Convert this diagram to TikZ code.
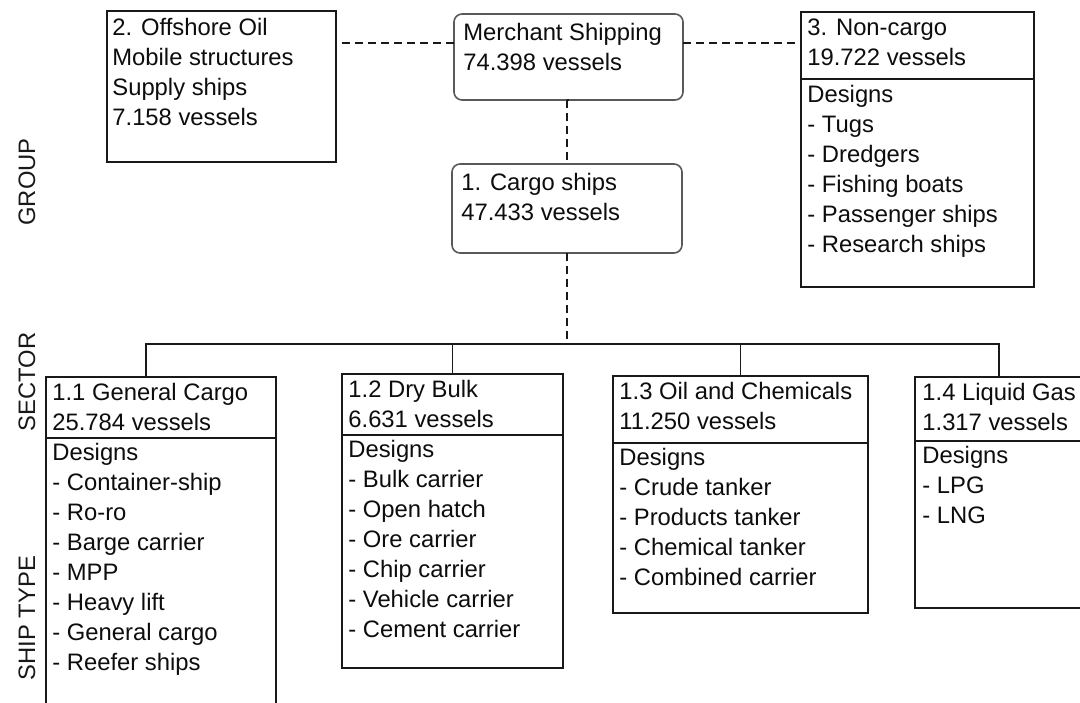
\documentclass[tikz,border=0pt]{standalone}
\usepackage{fontspec}
\setmainfont{Liberation Sans}
\usetikzlibrary{calc}
\begin{document}
\begin{tikzpicture}[x=0.5pt,y=-0.5pt,
  boxframe/.style={draw=black!90, line width=1pt, inner sep=0pt, outer sep=0pt, anchor=north west},
  roundframe/.style={draw=black!65, line width=0.8pt, rounded corners=4pt, inner sep=0pt, outer sep=0pt, anchor=north west},
  boxsize/.style args={#1/#2}{minimum width=#1*0.5pt, minimum height=#2*0.5pt},
  txt/.style={inner sep=0pt, anchor=north west, align=left, font=\fontsize{11.9}{15}\selectfont, text=black!95},
  sidelabel/.style={rotate=90, anchor=base, inner sep=0pt, font=\fontsize{11.9}{15}\selectfont, text=black!90},
  link/.style={line width=0.8pt, draw=black!90},
  dashlink/.style={link, dash pattern=on 4pt off 2.5pt},
]
\useasboundingbox (0,0) rectangle (1080,702);
\clip (0,0) rectangle (1080,702);
\fill[white] (0,0) rectangle (1080,702);

% level labels
\node[sidelabel] (lgroup) at (35,182) {GROUP};
\node[sidelabel] (lsector) at (35,382) {SECTOR};
\node[sidelabel] (ltype) at (35,618) {SHIP TYPE};

% group level
\node[roundframe, boxsize=229/86] (merch) at (454,14) {};
\node[txt] (merchT) at ($(merch.north west)+(9,5)$) {\strut Merchant Shipping\\74.398 vessels};

\node[roundframe, boxsize=230/89] (cargo) at (452,164) {};
\node[txt] (cargoT) at ($(cargo.north west)+(9,5)$) {\strut 1. Cargo ships\\47.433 vessels};

\node[boxframe, boxsize=229/151] (off) at (107,11) {};
\node[txt] (offT) at ($(off.north west)+(5,3)$) {\strut 2. Offshore Oil\\Mobile structures\\Supply ships\\7.158 vessels};

\node[boxframe, boxsize=233/67] (nch) at (801,12) {};
\node[boxframe, boxsize=233/208] (ncb) at (nch.south west) {};
\node[txt] (nchT) at ($(nch.north west)+(6,2)$) {\strut 3. Non-cargo\\19.722 vessels};
\node[txt] (ncbT) at ($(ncb.north west)+(6,2)$) {\strut Designs\\- Tugs\\- Dredgers\\- Fishing boats\\- Passenger ships\\- Research ships};

% sector / ship type level
\node[boxframe, boxsize=230/61] (gch) at (46,377) {};
\node[boxframe, boxsize=230/300] (gcb) at (gch.south west) {};
\node[txt] (gchT) at ($(gch.north west)+(6,2)$) {\strut 1.1 General Cargo\\25.784 vessels};
\node[txt] (gcbT) at ($(gcb.north west)+(6,1)$) {\strut Designs\\- Container-ship\\- Ro-ro\\- Barge carrier\\- MPP\\- Heavy lift\\- General cargo\\- Reefer ships};

\node[boxframe, boxsize=221/61] (dbh) at (342,374) {};
\node[boxframe, boxsize=221/233] (dbb) at (dbh.south west) {};
\node[txt] (dbhT) at ($(dbh.north west)+(6,2)$) {\strut 1.2 Dry Bulk\\6.631 vessels};
\node[txt] (dbbT) at ($(dbb.north west)+(6,1)$) {\strut Designs\\- Bulk carrier\\- Open hatch\\- Ore carrier\\- Chip carrier\\- Vehicle carrier\\- Cement carrier};

\node[boxframe, boxsize=255/67] (och) at (613,376) {};
\node[boxframe, boxsize=255/170] (ocb) at (och.south west) {};
\node[txt] (ochT) at ($(och.north west)+(6,2)$) {\strut 1.3 Oil and Chemicals\\11.250 vessels};
\node[txt] (ocbT) at ($(ocb.north west)+(6,1)$) {\strut Designs\\- Crude tanker\\- Products tanker\\- Chemical tanker\\- Combined carrier};

\node[boxframe, boxsize=185/64] (lgh) at (915,377) {};
\node[boxframe, boxsize=185/167] (lgb) at (lgh.south west) {};
\node[txt] (lghT) at ($(lgh.north west)+(7,2)$) {\strut 1.4 Liquid Gas\\1.317 vessels};
\node[txt] (lgbT) at ($(lgb.north west)+(7,1)$) {\strut Designs\\- LPG\\- LNG};

% connectors of the group level
\coordinate (mleft) at ($(merch.north west)!0.337!(merch.south west)$);
\coordinate (mright) at ($(merch.north east)!0.337!(merch.south east)$);
\draw[dashlink] (mleft) -- (mleft -| off.east);
\draw[dashlink] (mright) -- (mright -| nch.west);
\draw[dashlink] (merch.south) -- (cargo.south |- merch.south);
\draw[dashlink] (cargo.south |- merch.south) -- (cargo.north);

% bus to the sectors
\coordinate (bus) at ($(cargo.south)+(0,91)$);
\coordinate (gcd) at ($(gch.north west)+(100,0)$);
\coordinate (lgd) at ($(lgh.north west)+(84,0)$);
\draw[dashlink] (cargo.south) -- (bus);
\draw[link] (gcd) -- (gcd |- bus) -- (lgd |- bus) -- (lgd);
\draw[link] (dbh.north) -- (dbh.north |- bus);
\draw[link] (och.north) -- (och.north |- bus);
\end{tikzpicture}
\end{document}
